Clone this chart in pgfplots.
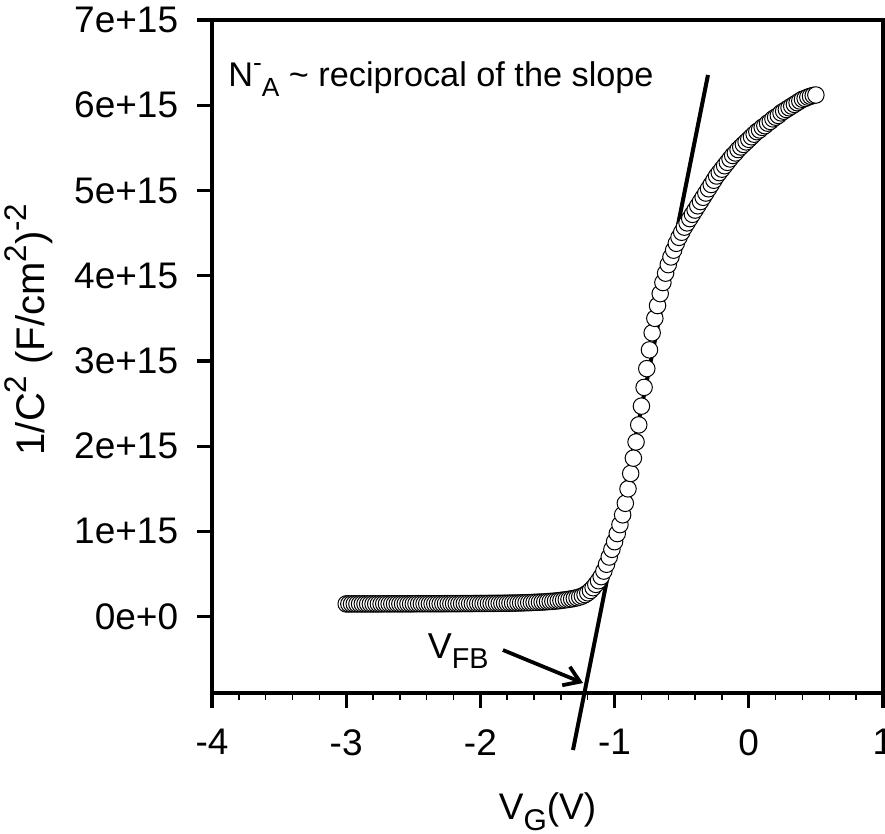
\documentclass[border=0pt]{standalone}
\usepackage{pgfplots}
\pgfplotsset{compat=1.18}
\usepackage{fontspec}
\setmainfont{Liberation Sans}
\usetikzlibrary{arrows.meta}
\newcommand{\sbs}[2][11]{\raisebox{-0.28em}{\fontsize{#1}{#1}\selectfont #2}}
\newcommand{\sps}[2][11]{\raisebox{0.45em}{\fontsize{#1}{#1}\selectfont #2}}

\begin{document}
\begin{tikzpicture}
\path[use as bounding box] (-84.8pt,-56.4pt) rectangle (269.2pt,277.2pt);
\begin{axis}[
  at={(0,0)}, anchor=south west,
  scale only axis,
  width=268.4pt, height=269.2pt,
  xmin=-4, xmax=1,
  ymin=-0.895, ymax=7,
  clip=false,
  axis line style={line width=1.3pt},
  xtick={-4,-3,-2,-1,0,1},
  xticklabels={-4,-3,-2,-1,0,1},
  minor x tick num=4,
  ytick={0,1,2,3,4,5,6,7},
  yticklabels={0e+0,1e+15,2e+15,3e+15,4e+15,5e+15,6e+15,7e+15},
  xtick pos=lower, ytick pos=left,
  tick align=outside,
  major tick length=6pt,
  minor tick length=2.8pt,
  major tick style={line width=1.3pt, black},
  minor tick style={line width=0.6pt, black},
  tick label style={font=\fontsize{14.8}{17}\selectfont},
  xticklabel style={yshift=-5pt},
  yticklabel style={xshift=-4pt},
  xlabel={V\sbs[12]{G}(V)},
  xlabel style={at={(axis description cs:0.5,0)}, anchor=base, yshift=-50.8pt, font=\fontsize{14.8}{17}\selectfont},
  ylabel={1/C\sps[12.5]{2} (F/cm\sps[12.5]{2})\sps[12.5]{-2}},
  ylabel style={at={(axis description cs:-0.2489,0.54)}, anchor=base, font=\fontsize{16}{18}\selectfont},
]
% 1/C^2 in units of 1e15 (F/cm^2)^-2 versus V_G (V)
\addplot[only marks, mark=*, mark size=3.3pt, mark options={fill=white, draw=black, line width=0.4pt}] coordinates {
(-3.00,0.150) (-2.98,0.150) (-2.96,0.150) (-2.94,0.150) (-2.92,0.150) (-2.90,0.150)
(-2.88,0.150) (-2.86,0.150) (-2.84,0.150) (-2.82,0.150) (-2.80,0.150) (-2.78,0.150)
(-2.76,0.150) (-2.74,0.150) (-2.72,0.151) (-2.70,0.151) (-2.68,0.151) (-2.66,0.151)
(-2.64,0.151) (-2.62,0.151) (-2.60,0.151) (-2.58,0.151) (-2.56,0.151) (-2.54,0.151)
(-2.52,0.151) (-2.50,0.151) (-2.48,0.152) (-2.46,0.152) (-2.44,0.152) (-2.42,0.152)
(-2.40,0.152) (-2.38,0.152) (-2.36,0.152) (-2.34,0.152) (-2.32,0.152) (-2.30,0.152)
(-2.28,0.152) (-2.26,0.153) (-2.24,0.153) (-2.22,0.153) (-2.20,0.153) (-2.18,0.153)
(-2.16,0.153) (-2.14,0.154) (-2.12,0.154) (-2.10,0.154) (-2.08,0.154) (-2.06,0.154)
(-2.04,0.155) (-2.02,0.155) (-2.00,0.155) (-1.98,0.155) (-1.96,0.155) (-1.94,0.156)
(-1.92,0.156) (-1.90,0.156) (-1.88,0.157) (-1.86,0.157) (-1.84,0.157) (-1.82,0.158)
(-1.80,0.158) (-1.78,0.159) (-1.76,0.160) (-1.74,0.160) (-1.72,0.161) (-1.70,0.162)
(-1.68,0.163) (-1.66,0.164) (-1.64,0.165) (-1.62,0.166) (-1.60,0.168) (-1.58,0.169)
(-1.56,0.171) (-1.54,0.172) (-1.52,0.174) (-1.50,0.177) (-1.48,0.179) (-1.46,0.181)
(-1.44,0.184) (-1.42,0.187) (-1.40,0.191) (-1.38,0.195) (-1.36,0.199) (-1.34,0.204)
(-1.32,0.209) (-1.30,0.215) (-1.28,0.222) (-1.26,0.231) (-1.24,0.243) (-1.22,0.259)
(-1.20,0.280) (-1.18,0.307) (-1.16,0.340) (-1.14,0.379) (-1.12,0.422) (-1.10,0.470)
(-1.08,0.535) (-1.06,0.615) (-1.04,0.700) (-1.02,0.790) (-1.00,0.880) (-0.98,0.975)
(-0.96,1.080) (-0.94,1.195) (-0.92,1.330) (-0.90,1.500) (-0.88,1.680) (-0.86,1.860)
(-0.84,2.050) (-0.82,2.250) (-0.80,2.470) (-0.78,2.690) (-0.76,2.910) (-0.74,3.130)
(-0.72,3.330) (-0.70,3.500) (-0.68,3.650) (-0.66,3.790) (-0.64,3.920) (-0.62,4.030)
(-0.60,4.130) (-0.58,4.220) (-0.56,4.300) (-0.54,4.380) (-0.52,4.450) (-0.50,4.510)
(-0.48,4.570) (-0.46,4.620) (-0.44,4.670) (-0.42,4.720) (-0.40,4.770) (-0.38,4.820)
(-0.36,4.870) (-0.34,4.920) (-0.32,4.970) (-0.30,5.020) (-0.28,5.070) (-0.26,5.120)
(-0.24,5.170) (-0.22,5.210) (-0.20,5.250) (-0.18,5.290) (-0.16,5.330) (-0.14,5.370)
(-0.12,5.410) (-0.10,5.440) (-0.08,5.480) (-0.06,5.510) (-0.04,5.540) (-0.02,5.570)
(0.00,5.600) (0.02,5.630) (0.04,5.660) (0.06,5.690) (0.08,5.710) (0.10,5.740)
(0.12,5.760) (0.14,5.790) (0.16,5.810) (0.18,5.840) (0.20,5.860) (0.22,5.880)
(0.24,5.910) (0.26,5.930) (0.28,5.950) (0.30,5.970) (0.32,5.990) (0.34,6.010)
(0.36,6.030) (0.38,6.050) (0.40,6.070) (0.42,6.080) (0.44,6.095) (0.46,6.105)
(0.48,6.115) (0.50,6.120)
};
\addplot[black, line width=1.6pt, mark=none] coordinates {(-1.310,-1.564) (-0.304,6.355)};
\node[anchor=base west, inner sep=0pt, font=\fontsize{13.7}{16}\selectfont] at (axis cs:-3.881,6.214) {N\sps[10.5]{-}\sbs[10.5]{A} \textasciitilde{} reciprocal of the slope};
\node[anchor=base west, inner sep=0pt, font=\fontsize{14.4}{17}\selectfont] at (axis cs:-2.396,-0.486) {V\sbs[11.5]{FB}};
\draw[line width=1.5pt, -{Straight Barb[length=6pt, width=8pt]}] (axis cs:-1.832,-0.391) -- (axis cs:-1.235,-0.778);
\end{axis}
\end{tikzpicture}
\end{document}
